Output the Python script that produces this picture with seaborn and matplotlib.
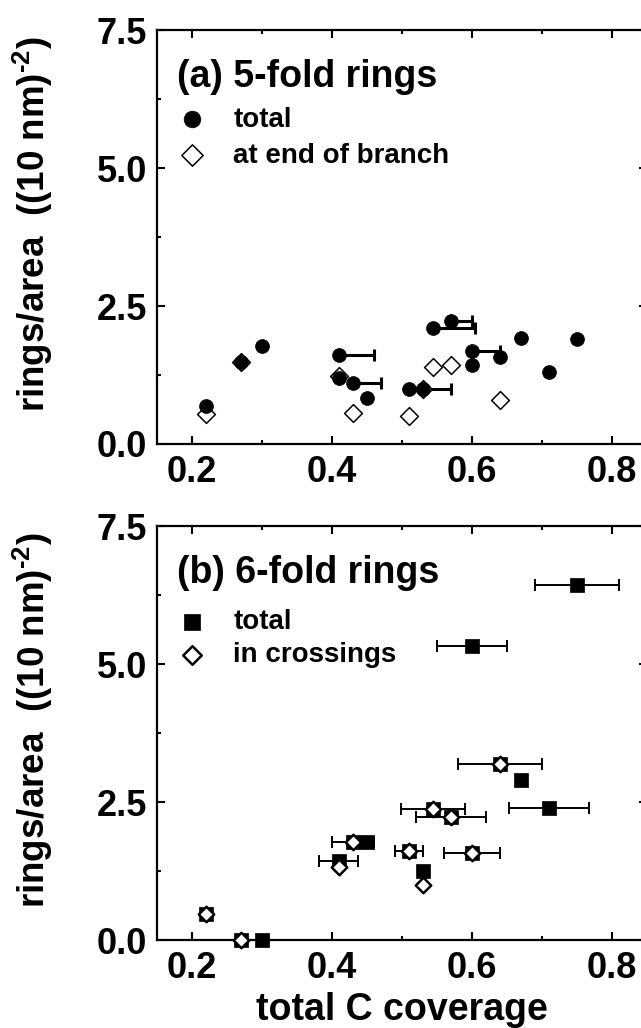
import numpy as np
import matplotlib
matplotlib.use("Agg")
import matplotlib.pyplot as plt
from matplotlib.ticker import MultipleLocator, FormatStrFormatter
import seaborn as sns

# (a) 5-fold rings
a_total_x = [0.22, 0.27, 0.30, 0.41, 0.41, 0.43, 0.45, 0.51, 0.53, 0.545, 0.57, 0.60, 0.60, 0.64, 0.67, 0.71, 0.75]
a_total_y = [0.68, 1.49, 1.78, 1.61, 1.19, 1.10, 0.83, 1.00, 1.00, 2.11, 2.22, 1.68, 1.43, 1.58, 1.92, 1.31, 1.91]
a_total_xerr = [0, 0, 0, 0.05, 0, 0.04, 0, 0, 0.04, 0.06, 0.03, 0.04, 0, 0, 0, 0, 0]
a_end_x = [0.22, 0.27, 0.41, 0.43, 0.51, 0.53, 0.545, 0.57, 0.64]
a_end_y = [0.55, 1.49, 1.24, 0.56, 0.50, 1.00, 1.40, 1.43, 0.80]

# (b) 6-fold rings
b_total_x = [0.22, 0.27, 0.30, 0.41, 0.43, 0.45, 0.51, 0.53, 0.545, 0.57, 0.60, 0.60, 0.64, 0.67, 0.71, 0.75]
b_total_y = [0.47, 0.0, 0.0, 1.44, 1.77, 1.78, 1.62, 1.25, 2.38, 2.22, 1.58, 5.33, 3.18, 2.89, 2.40, 6.44]
b_total_xerr = [0, 0, 0, 0.028, 0.03, 0, 0.02, 0, 0.046, 0.05, 0.04, 0.05, 0.06, 0, 0.057, 0.06]
b_cross_x = [0.22, 0.27, 0.41, 0.43, 0.51, 0.53, 0.545, 0.57, 0.60, 0.64]
b_cross_y = [0.47, 0.0, 1.33, 1.77, 1.62, 1.00, 2.38, 2.22, 1.58, 3.18]

sns.set_style("ticks")
plt.rcParams['font.family'] = ['Liberation Sans', 'DejaVu Sans']
plt.rcParams['font.weight'] = 'bold'
plt.rcParams['mathtext.fontset'] = 'custom'
plt.rcParams['mathtext.rm'] = 'Liberation Sans:bold'
plt.rcParams['mathtext.bf'] = 'Liberation Sans:bold'
plt.rcParams['axes.linewidth'] = 1.6
for k in ['text.color', 'axes.labelcolor', 'xtick.color', 'ytick.color',
          'axes.edgecolor']:
    plt.rcParams[k] = 'black'

fig = plt.figure(figsize=(6.41, 10.28), dpi=100)
ax_a = fig.add_axes([0.2446, 0.5681, 0.7644, 0.4027])
ax_b = fig.add_axes([0.2446, 0.0856, 0.7644, 0.4027])

ylab = r"rings/area  ((10 nm)$^{\text{-2}}$)"


def style_axes(ax):
    ax.set_xlim(0.15, 0.85)
    ax.set_ylim(0, 7.5)
    ax.xaxis.set_major_locator(MultipleLocator(0.2))
    ax.xaxis.set_minor_locator(MultipleLocator(0.1))
    ax.yaxis.set_major_locator(MultipleLocator(2.5))
    ax.yaxis.set_minor_locator(MultipleLocator(1.25))
    ax.xaxis.set_major_formatter(FormatStrFormatter('%.1f'))
    ax.yaxis.set_major_formatter(FormatStrFormatter('%.1f'))
    ax.tick_params(which='both', direction='in', top=True, right=True,
                   width=1.5, labelsize=26, colors='black')
    ax.tick_params(which='major', length=6)
    ax.tick_params(which='minor', length=3)
    ax.tick_params(axis='x', pad=8)
    ax.tick_params(axis='y', pad=7)
    for s in ax.spines.values():
        s.set_visible(True)
        s.set_linewidth(1.6)
        s.set_color('black')
    ax.set_ylabel(ylab, fontsize=26.5, fontweight='bold', color='black')
    ax.yaxis.set_label_coords(-0.208, 0.53)


# panel (a)
ax = ax_a
err = np.array(a_total_xerr)
m = err > 0
ax.errorbar(np.array(a_total_x)[m], np.array(a_total_y)[m],
            xerr=[np.zeros(m.sum()), err[m]], fmt='none', ecolor='black',
            elinewidth=2.2, capsize=4.5, capthick=2.2, zorder=1)
sns.scatterplot(x=a_total_x, y=a_total_y, marker='o', s=100, color='black',
                edgecolor='black', linewidth=0.5, label='total', ax=ax, zorder=3)
sns.scatterplot(x=a_end_x, y=a_end_y, marker='D', s=82, color='white',
                edgecolor='black', linewidth=1.1, label='at end of branch',
                ax=ax, zorder=2)
style_axes(ax)
ax.text(0.041, 0.863, '(a) 5-fold rings', transform=ax.transAxes,
        fontsize=27, fontweight='bold', ha='left', va='baseline')
ax.legend(loc='upper left', bbox_to_anchor=(0.043, 0.815), frameon=False,
          fontsize=20, handlelength=1.0, handletextpad=1.0, borderpad=0,
          borderaxespad=0, labelspacing=0.36, markerscale=1.2, scatterpoints=1)

# panel (b)
ax = ax_b
err = np.array(b_total_xerr)
m = err > 0
ax.errorbar(np.array(b_total_x)[m], np.array(b_total_y)[m], xerr=err[m],
            fmt='none', ecolor='black', elinewidth=1.4, capsize=4,
            capthick=1.4, zorder=1)
sns.scatterplot(x=b_total_x, y=b_total_y, marker='s', s=88, color='black',
                edgecolor='black', linewidth=0.5, label='total', ax=ax, zorder=2)
sns.scatterplot(x=b_cross_x, y=b_cross_y, marker='D', s=62, color='white',
                edgecolor='black', linewidth=1.8, label='in crossings',
                ax=ax, zorder=3)
for coll in ax.collections:
    coll.set_clip_on(False)
style_axes(ax)
ax.text(0.041, 0.863, '(b) 6-fold rings', transform=ax.transAxes,
        fontsize=27, fontweight='bold', ha='left', va='baseline')
ax.legend(loc='upper left', bbox_to_anchor=(0.043, 0.80), frameon=False,
          fontsize=20, handlelength=1.0, handletextpad=1.0, borderpad=0,
          borderaxespad=0, labelspacing=0.26, markerscale=1.2, scatterpoints=1)
ax.set_xlabel('total C coverage', fontsize=27, fontweight='bold', labelpad=4)

fig.savefig('out.png', dpi=100)
